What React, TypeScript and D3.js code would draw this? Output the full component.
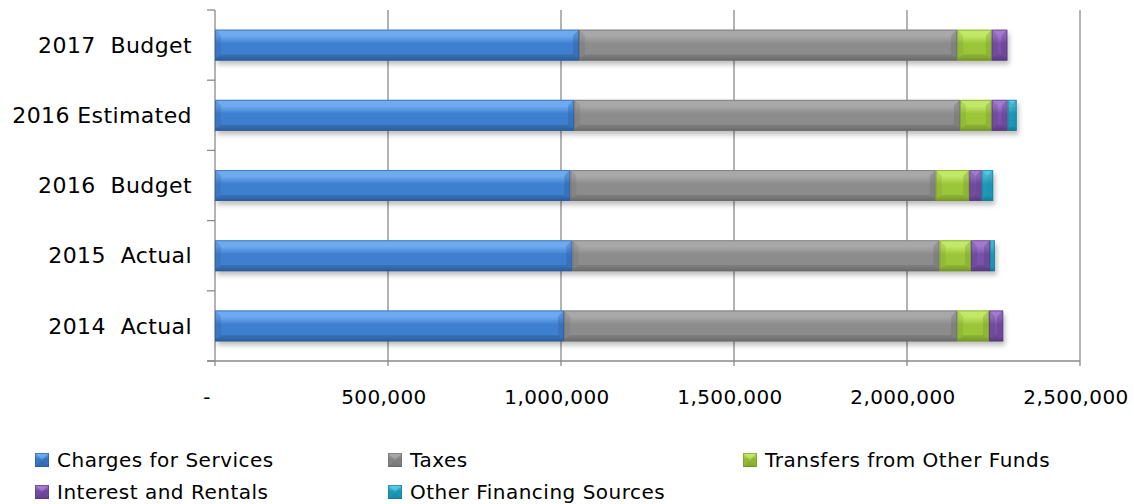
import React from "react";
import * as d3 from "d3";

const categories = ["2017  Budget", "2016 Estimated", "2016  Budget", "2015  Actual", "2014  Actual"];
const seriesNames = ["Charges for Services", "Taxes", "Transfers from Other Funds", "Interest and Rentals", "Other Financing Sources"];
const chargesForServices = [1052000, 1038000, 1027000, 1033000, 1009000];
const taxes = [1093000, 1115000, 1056000, 1061000, 1136000];
const transfers = [100000, 92000, 97000, 91000, 92000];
const interestRentals = [45000, 46000, 36000, 55000, 41000];
const otherFinancing = [0, 26000, 33000, 14000, 0];
const xTicks = [0, 500000, 1000000, 1500000, 2000000, 2500000];

const palette = [
  { base: "#3f7fcf", light: "#6eaaf0", dark: "#2c5c99" },
  { base: "#8c8c8c", light: "#a8a8a8", dark: "#6a6a6a" },
  { base: "#9cc63a", light: "#c2e868", dark: "#76962a" },
  { base: "#7a51a8", light: "#a27ad0", dark: "#583a7e" },
  { base: "#22a2c3", light: "#55c8e4", dark: "#177a94" },
];

const W = 1134, H = 504;
const left = 215, right = 1080, top = 10, bottom = 361;
const FONT = "'DejaVu Sans', sans-serif";

function Seg({ x, y, w, h, i }: { x: number; y: number; w: number; h: number; i: number }) {
  const c = palette[i];
  const b = Math.min(6, w / 2, h / 2);
  return (
    <g>
      <rect x={x} y={y} width={w} height={h} fill={`url(#g${i})`} />
      <polygon points={`${x},${y} ${x + w},${y} ${x + w - b},${y + b} ${x + b},${y + b}`} fill={c.light} opacity={0.55} />
      <polygon points={`${x},${y + h} ${x + w},${y + h} ${x + w - b},${y + h - b} ${x + b},${y + h - b}`} fill={c.dark} opacity={0.5} />
      <polygon points={`${x},${y} ${x + b},${y + b} ${x + b},${y + h - b} ${x},${y + h}`} fill={c.dark} opacity={0.25} />
      <polygon points={`${x + w},${y} ${x + w - b},${y + b} ${x + w - b},${y + h - b} ${x + w},${y + h}`} fill={c.dark} opacity={0.35} />
      <rect x={x + 0.5} y={y + 0.5} width={Math.max(0, w - 1)} height={h - 1} fill="none" stroke={c.dark} strokeOpacity={0.6} strokeWidth={1} />
    </g>
  );
}

export default function App() {
  const x = d3.scaleLinear().domain([0, 2500000]).range([left, right]);
  const y = d3.scaleBand<string>().domain(categories).range([top, bottom]).paddingInner(0.56).paddingOuter(0.28);
  const series = [chargesForServices, taxes, transfers, interestRentals, otherFinancing];
  const rows = categories.map((cat, ci) => {
    let acc = 0;
    return series.map((s, si) => {
      const v0 = acc;
      acc += s[ci];
      return { cat, si, v0, v1: acc };
    });
  });
  const yTickPos = d3.range(categories.length + 1).map((k) => top + k * ((bottom - top) / categories.length));
  const legend = [
    { i: 0, x: 35, y: 460 },
    { i: 1, x: 388, y: 460 },
    { i: 2, x: 743, y: 460 },
    { i: 3, x: 35, y: 492 },
    { i: 4, x: 388, y: 492 },
  ];
  return (
    <svg width={W} height={H} style={{ position: "absolute", left: 0, top: 0, background: "#fff" }} fontFamily={FONT}>
      <defs>
        {palette.map((c, i) => (
          <linearGradient key={i} id={`g${i}`} x1="0" y1="0" x2="0" y2="1">
            <stop offset="0" stopColor={c.light} />
            <stop offset="0.2" stopColor={c.light} />
            <stop offset="0.45" stopColor={c.base} />
            <stop offset="0.85" stopColor={c.base} />
            <stop offset="1" stopColor={c.dark} />
          </linearGradient>
        ))}
        <filter id="shadow" x="-5%" y="-50%" width="110%" height="200%">
          <feGaussianBlur stdDeviation="2.5" />
        </filter>
      </defs>
      {xTicks.map((t) => (
        <line key={t} x1={x(t)} x2={x(t)} y1={top} y2={bottom + 5} stroke="#8a8a8a" strokeWidth={1.3} />
      ))}
      <line x1={left - 8} x2={right} y1={bottom} y2={bottom} stroke="#8a8a8a" strokeWidth={1.3} />
      {yTickPos.map((p, k) => (
        <line key={k} x1={left - 8} x2={left} y1={p} y2={p} stroke="#8a8a8a" strokeWidth={1.3} />
      ))}
      {rows.map((segs, ci) => {
        const by = y(categories[ci])!;
        const bh = y.bandwidth();
        const total = segs[segs.length - 1].v1;
        return (
          <g key={ci}>
            <rect x={x(0) + 2} y={by + 4} width={x(total) - x(0)} height={bh} fill="#000" opacity={0.25} filter="url(#shadow)" />
            {segs.filter((s) => s.v1 > s.v0).map((s) => (
              <Seg key={s.si} x={x(s.v0)} y={by} w={x(s.v1) - x(s.v0)} h={bh} i={s.si} />
            ))}
          </g>
        );
      })}
      {categories.map((c) => (
        <text key={c} x={192} y={y(c)! + y.bandwidth() / 2} dy="0.35em" textAnchor="end" fontSize={22} letterSpacing={0.4} fill="#000" style={{ whiteSpace: "pre" }}>
          {c}
        </text>
      ))}
      {xTicks.map((t) => (
        <text key={t} x={t === 0 ? x(t) - 8 : x(t) - 4} y={397} dy="0.35em" textAnchor="middle" fontSize={20} letterSpacing={0.4} fill="#000">
          {t === 0 ? "-" : d3.format(",")(t)}
        </text>
      ))}
      {legend.map((l) => (
        <g key={l.i}>
          <Seg x={l.x} y={l.y - 7} w={14} h={14} i={l.i} />
          <text x={l.x + 22} y={l.y} dy="0.35em" fontSize={20} letterSpacing={0.5} fill="#000">
            {seriesNames[l.i]}
          </text>
        </g>
      ))}
    </svg>
  );
}
